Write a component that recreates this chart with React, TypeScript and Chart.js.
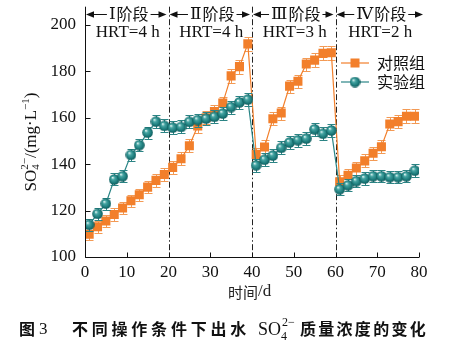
import React, { useEffect, useRef } from "react";
import { Chart, registerables } from "chart.js";

Chart.register(...registerables);

const days = [1, 3, 5, 7, 9, 11, 13, 15, 17, 19, 21, 23, 25, 27, 29, 31, 33, 35, 37, 39, 41, 43, 45, 47, 49, 51, 53, 55, 57, 59, 61, 63, 65, 67, 69, 71, 73, 75, 77, 79];
const controlValues = [109.8, 113.0, 115.5, 118.3, 121.1, 124.2, 126.8, 130.1, 133.0, 135.5, 138.6, 142.3, 147.9, 156.4, 160.0, 162.6, 166.3, 178.0, 182.0, 191.8, 144.2, 147.4, 159.5, 162.0, 173.6, 175.7, 183.1, 184.8, 187.7, 188.0, 132.4, 135.2, 138.3, 141.4, 144.7, 147.5, 157.3, 158.3, 160.6, 160.6];
const experimentValues = [113.9, 118.6, 123.0, 133.4, 134.8, 144.0, 148.2, 153.6, 158.3, 156.5, 155.7, 156.0, 158.2, 159.0, 159.6, 160.4, 161.8, 164.6, 166.6, 167.8, 139.5, 141.9, 143.7, 147.0, 149.3, 150.3, 151.0, 155.0, 153.1, 154.5, 129.2, 130.9, 132.7, 133.8, 134.8, 134.8, 134.4, 134.4, 134.8, 137.2];
const controlErrors = [2.6, 2.6, 2.6, 2.6, 2.6, 2.6, 2.6, 2.6, 2.8, 2.8, 2.8, 2.8, 2.8, 2.8, 2.8, 2.8, 2.8, 3, 3, 3, 2.8, 2.8, 2.8, 2.8, 2.8, 2.8, 2.8, 3, 3, 3, 2.8, 2.8, 2.8, 2.8, 2.8, 2.8, 2.8, 2.8, 3, 3];
const experimentErrors = [2.6, 2.6, 2.6, 2.6, 2.6, 2.6, 2.6, 2.6, 2.8, 2.8, 2.8, 2.8, 2.8, 2.8, 2.8, 2.8, 2.8, 2.8, 2.8, 2.8, 2.8, 2.8, 2.8, 2.8, 2.8, 2.8, 2.8, 2.8, 2.8, 2.8, 2.6, 2.6, 2.6, 2.6, 2.6, 2.6, 2.6, 2.6, 2.6, 2.8];
const seriesNames = ["对照组", "实验组"];
const xTicks = [0, 10, 20, 30, 40, 50, 60, 70, 80];
const yTicks = [100, 120, 140, 160, 180, 200];
const xMin = 0;
const xMax = 80;
const yMin = 100;
const yMax = 207.8;
const phaseBounds = [0, 20, 40, 60, 80];
const phaseNumerals = ["Ⅰ", "Ⅱ", "Ⅲ", "Ⅳ"];
const phaseWord = "阶段";
const phaseHRT = ["HRT=4 h", "HRT=4 h", "HRT=3 h", "HRT=2 h"];
const xTitle = ["时间", "/d"];
const captionParts = ["图", "3", "不同操作条件下出水", "质量浓度的变化"];

const ORANGE = "#F27F2B";
const TEAL = "#1D7B7C";
const SERIF = "'Liberation Serif', 'Times New Roman', 'DejaVu Serif', serif";
const CJK = "'Noto Sans CJK SC', 'Noto Sans', sans-serif";
const SERIF_ALL = "'Liberation Serif', 'DejaVu Serif', 'Noto Sans CJK SC', serif";

function makeBall(d: number) {
  const c = document.createElement("canvas");
  c.width = d;
  c.height = d;
  const g = c.getContext("2d")!;
  const r = d / 2;
  const grd = g.createRadialGradient(r - 1.7, r - 2, 0.3, r, r, r);
  grd.addColorStop(0, "#e4f6f4");
  grd.addColorStop(0.28, "#45a5a3");
  grd.addColorStop(0.75, "#1a7878");
  grd.addColorStop(1, "#0c5556");
  g.fillStyle = grd;
  g.beginPath();
  g.arc(r, r, r - 0.2, 0, Math.PI * 2);
  g.fill();
  return c;
}

type Part = { t: string; size: number; dy: number; font: string; stack?: boolean };

function drawRich(ctx: CanvasRenderingContext2D, parts: Part[], cx: number, cy: number) {
  const widths = parts.map((p) => {
    ctx.font = `${p.size}px ${p.font}`;
    return ctx.measureText(p.t).width;
  });
  let total = 0;
  for (let i = 0; i < parts.length; i++) {
    if (parts[i].stack) continue;
    if (i > 0 && parts[i - 1].stack) total += Math.max(widths[i - 1], widths[i]);
    else total += widths[i];
  }
  let x = cx - total / 2;
  ctx.textAlign = "left";
  ctx.textBaseline = "alphabetic";
  for (let i = 0; i < parts.length; i++) {
    const p = parts[i];
    ctx.font = `${p.size}px ${p.font}`;
    ctx.fillText(p.t, x, cy + p.dy);
    if (p.stack) continue;
    if (i > 0 && parts[i - 1].stack) x += Math.max(widths[i - 1], widths[i]);
    else x += widths[i];
  }
}

function arrowHead(ctx: CanvasRenderingContext2D, x: number, y: number, dir: number) {
  ctx.beginPath();
  ctx.moveTo(x, y);
  ctx.lineTo(x - dir * 8, y - 3.2);
  ctx.lineTo(x - dir * 8, y + 3.2);
  ctx.closePath();
  ctx.fill();
}

const decorPlugin = {
  id: "decor",
  beforeDatasetDraw(chart: any, args: any) {
    const ctx = chart.ctx as CanvasRenderingContext2D;
    const ys = chart.scales.y;
    const idx = args.index;
    const vals = idx === 0 ? controlValues : experimentValues;
    const errs = idx === 0 ? controlErrors : experimentErrors;
    ctx.save();
    ctx.strokeStyle = idx === 0 ? "#F39A55" : "#2C8485";
    ctx.lineWidth = 1;
    args.meta.data.forEach((pt: any, i: number) => {
      const x = Math.round(pt.x) + 0.5;
      const yt = Math.round(ys.getPixelForValue(vals[i] + errs[i])) + 0.5;
      const yb = Math.round(ys.getPixelForValue(vals[i] - errs[i])) + 0.5;
      ctx.beginPath();
      ctx.moveTo(x, yt);
      ctx.lineTo(x, yb);
      ctx.moveTo(x - 4, yt);
      ctx.lineTo(x + 4, yt);
      ctx.moveTo(x - 4, yb);
      ctx.lineTo(x + 4, yb);
      ctx.stroke();
    });
    ctx.restore();
  },
  beforeDatasetsDraw(chart: any) {
    const ctx = chart.ctx as CanvasRenderingContext2D;
    const { top, bottom } = chart.chartArea;
    const xs = chart.scales.x;
    ctx.save();
    ctx.strokeStyle = "#222";
    ctx.lineWidth = 1;
    ctx.setLineDash([6, 2.5, 1.5, 2.5]);
    phaseBounds.slice(1, -1).forEach((b) => {
      const x = Math.round(xs.getPixelForValue(b)) + 0.5;
      ctx.beginPath();
      ctx.moveTo(x, top);
      ctx.lineTo(x, bottom);
      ctx.stroke();
    });
    ctx.restore();
  },
  afterDraw(chart: any) {
    const ctx = chart.ctx as CanvasRenderingContext2D;
    const { left, right, top, bottom } = chart.chartArea;
    const xs = chart.scales.x;
    const ys = chart.scales.y;
    ctx.save();
    // axes
    ctx.strokeStyle = "#111";
    ctx.lineWidth = 1;
    const lx = Math.round(left) + 0.5;
    const by = Math.round(bottom) + 0.5;
    ctx.beginPath();
    ctx.moveTo(lx, top);
    ctx.lineTo(lx, by);
    ctx.lineTo(right, by);
    ctx.stroke();
    // inward ticks
    ctx.beginPath();
    yTicks.forEach((v) => {
      const y = Math.round(ys.getPixelForValue(v)) + 0.5;
      ctx.moveTo(lx, y);
      ctx.lineTo(lx + 5, y);
    });
    xTicks.forEach((v) => {
      const x = Math.round(xs.getPixelForValue(v)) + 0.5;
      ctx.moveTo(x, by);
      ctx.lineTo(x, by - 5);
    });
    ctx.stroke();

    ctx.fillStyle = "#111";
    // phase annotations
    const ay = 14;
    for (let i = 0; i < phaseNumerals.length; i++) {
      const x1 = xs.getPixelForValue(phaseBounds[i]) + 1;
      const x2 = xs.getPixelForValue(phaseBounds[i + 1]) + (i === phaseNumerals.length - 1 ? 4 : -2);
      const cx = (xs.getPixelForValue(phaseBounds[i]) + xs.getPixelForValue(phaseBounds[i + 1])) / 2 + (i === 3 ? 4 : 2);
      ctx.font = `17px ${SERIF_ALL}`;
      const wN = ctx.measureText(phaseNumerals[i]).width;
      ctx.font = `16px ${CJK}`;
      const wW = ctx.measureText(phaseWord).width;
      const w = wN + 1 + wW;
      const tx = cx - w / 2;
      ctx.textBaseline = "middle";
      ctx.textAlign = "left";
      ctx.font = `17px ${SERIF_ALL}`;
      ctx.fillText(phaseNumerals[i], tx, ay + 1);
      ctx.font = `16px ${CJK}`;
      ctx.fillText(phaseWord, tx + wN + 1, ay);
      ctx.strokeStyle = "#111";
      ctx.beginPath();
      ctx.moveTo(x1 + 4, ay + 0.5);
      ctx.lineTo(tx - 2, ay + 0.5);
      ctx.moveTo(tx + w + 2, ay + 0.5);
      ctx.lineTo(x2 - 4, ay + 0.5);
      ctx.stroke();
      arrowHead(ctx, x1, ay + 0.5, -1);
      arrowHead(ctx, x2, ay + 0.5, 1);
      // HRT
      ctx.font = `17px ${SERIF}`;
      ctx.textAlign = "center";
      ctx.fillText(phaseHRT[i], cx - 1, 33);
    }

    // legend
    const legendItems = [
      { name: seriesNames[0], color: ORANGE, y: 63 },
      { name: seriesNames[1], color: TEAL, y: 82 },
    ];
    legendItems.forEach((it, k) => {
      ctx.strokeStyle = k === 0 ? ORANGE : "#2A8586";
      ctx.lineWidth = 1.2;
      ctx.beginPath();
      ctx.moveTo(341, it.y);
      ctx.lineTo(369, it.y);
      ctx.stroke();
      if (k === 0) {
        ctx.fillStyle = ORANGE;
        ctx.fillRect(350.5, it.y - 4.5, 9, 9);
      } else {
        ctx.drawImage(ball, 355 - 5.5, it.y - 5.5);
      }
      ctx.fillStyle = "#111";
      ctx.font = `16px ${CJK}`;
      ctx.textAlign = "left";
      ctx.textBaseline = "middle";
      ctx.fillText(it.name, 377, it.y);
    });

    // y title
    ctx.save();
    ctx.translate(30, 142);
    ctx.rotate(-Math.PI / 2);
    ctx.fillStyle = "#111";
    drawRich(
      ctx,
      [
        { t: "SO", size: 17, dy: 6, font: SERIF },
        { t: "4", size: 11, dy: 9, font: SERIF, stack: true },
        { t: "2−", size: 11, dy: -2, font: SERIF },
        { t: "/(mg·L", size: 17, dy: 6, font: SERIF },
        { t: "−1", size: 11, dy: -1, font: SERIF },
        { t: ")", size: 17, dy: 6, font: SERIF },
      ],
      0,
      0
    );
    ctx.restore();

    // x title
    ctx.fillStyle = "#222";
    ctx.textBaseline = "middle";
    ctx.textAlign = "left";
    ctx.font = `15px ${CJK}`;
    ctx.fillText(xTitle[0], 228, 292);
    ctx.font = `17px ${SERIF}`;
    ctx.fillText(xTitle[1], 258, 292);

    // caption
    ctx.fillStyle = "#111";
    ctx.font = `bold 16px ${CJK}`;
    ctx.fillText(captionParts[0], 19, 329);
    ctx.font = `17px ${SERIF}`;
    ctx.fillText(captionParts[1], 39, 330);
    ctx.font = `bold 16px ${CJK}`;
    const s1 = captionParts[2];
    const step1 = (250 - 72) / s1.length;
    for (let i = 0; i < s1.length; i++) ctx.fillText(s1[i], 72 + i * step1, 329);
    ctx.textBaseline = "alphabetic";
    ctx.font = `18px ${SERIF}`;
    ctx.fillText("SO", 258, 335);
    const soW = ctx.measureText("SO").width;
    ctx.font = `12px ${SERIF}`;
    ctx.fillText("4", 258 + soW, 340);
    ctx.fillText("2−", 258 + soW + 1, 326);
    ctx.textBaseline = "middle";
    ctx.font = `bold 16px ${CJK}`;
    const s2 = captionParts[3];
    const step2 = (428 - 300) / s2.length;
    for (let i = 0; i < s2.length; i++) ctx.fillText(s2[i], 300 + i * step2, 329);
    ctx.restore();
  },
};

let ball: HTMLCanvasElement;

export default function App() {
  const ref = useRef<HTMLCanvasElement | null>(null);
  useEffect(() => {
    document.body.style.margin = "0";
    ball = makeBall(11);
    const ctx = ref.current!.getContext("2d")!;
    const chart = new Chart(ctx, {
      type: "line",
      data: {
        datasets: [
          {
            label: seriesNames[0],
            data: days.map((d, i) => ({ x: d, y: controlValues[i] })),
            borderColor: ORANGE,
            backgroundColor: ORANGE,
            borderWidth: 1.2,
            pointStyle: "rect",
            pointRadius: 6.4,
            pointBorderWidth: 0,
            tension: 0,
            order: 1,
          },
          {
            label: seriesNames[1],
            data: days.map((d, i) => ({ x: d, y: experimentValues[i] })),
            borderColor: "#2A8586",
            backgroundColor: TEAL,
            borderWidth: 1.2,
            pointStyle: ball as any,
            pointRadius: 5.5,
            tension: 0,
            order: 0,
          },
        ],
      },
      options: {
        responsive: false,
        animation: false,
        devicePixelRatio: 1,
        layout: { padding: { left: 0, right: 36, top: 3, bottom: 0 } },
        plugins: { legend: { display: false }, tooltip: { enabled: false } },
        scales: {
          x: {
            type: "linear",
            min: xMin,
            max: xMax,
            afterBuildTicks: (s: any) => {
              s.ticks = xTicks.map((v) => ({ value: v }));
            },
            afterFit: (s: any) => {
              s.height = 85;
              s.paddingLeft = 0;
              s.paddingRight = 0;
            },
            grid: { display: false, drawTicks: false },
            border: { display: false },
            ticks: {
              padding: 5,
              color: "#111",
              maxRotation: 0,
              autoSkip: false,
              font: { family: SERIF, size: 17 },
            },
          },
          y: {
            type: "linear",
            min: yMin,
            max: yMax,
            afterBuildTicks: (s: any) => {
              s.ticks = yTicks.map((v) => ({ value: v }));
            },
            afterFit: (s: any) => {
              s.width = 85;
              s.paddingTop = 0;
              s.paddingBottom = 0;
            },
            grid: { display: false, drawTicks: false },
            border: { display: false },
            ticks: {
              padding: 9,
              color: "#111",
              autoSkip: false,
              font: { family: SERIF, size: 17 },
            },
          },
        },
      },
      plugins: [decorPlugin],
    } as any);
    return () => chart.destroy();
  }, []);
  return (
    <div style={{ width: 455, height: 342, background: "#fff" }}>
      <canvas ref={ref} width={455} height={342} style={{ display: "block", width: 455, height: 342 }} />
    </div>
  );
}
